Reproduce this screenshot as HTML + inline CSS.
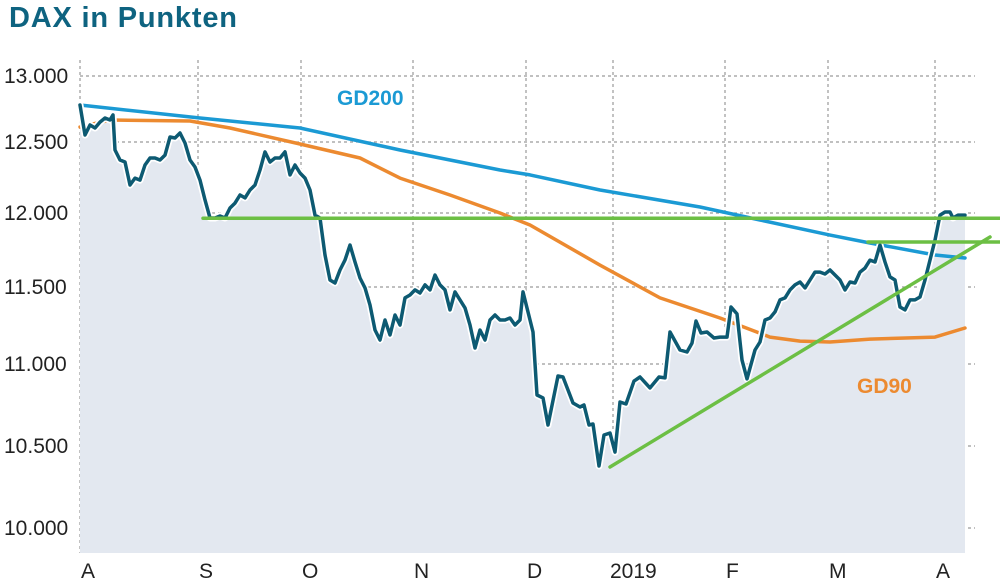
<!DOCTYPE html>
<html><head><meta charset="utf-8"><style>
body{margin:0;background:#fff;}
svg{display:block;font-family:"Liberation Sans",sans-serif;}
</style></head><body>
<svg id="chart" width="1000" height="582" viewBox="0 0 1000 582">
<text x="9" y="27" font-size="29" font-weight="bold" fill="#0e6380" textLength="228">DAX in Punkten</text>
<g id="grid"></g><g id="area"></g><g id="lines"></g><g id="labels"></g>
</svg>
<script>
const yTicks=[13000,12500,12000,11500,11000,10500,10000];
const yTickLabels=["13.000","12.500","12.000","11.500","11.000","10.500","10.000"];
const monthLabels=["A","S","O","N","D","2019","F","M","A"];
const monthDays=[0,23.6,44.2,66.6,89.2,106.6,129,149.6,171];
const daxDays=[0,1,2,3,4,5,6,6.6,7,
8,9,10,11,12,13,14,15,16,17,18,19,20,21,22,23,24,25,26,27,28,29,30,31,32,33,34,35,36,37,38,39,40,41,42,43,44,45,46,47,48,49,50,51,52,53,54,55,56,57,58,59,60,61,62,63,64,65,66,67,68,69,70,71,72,73,74,75,76,77,78,79,80,81,82,83,84,85,86,87,88,
88.6,90.6,91.4,92.6,93.6,95.6,96.6,98.6,100,100.8,101.8,102.6,103.8,104.8,106,107,108,109.2,110.8,112,114,115.8,117,118,120,121.4,122.4,123.2,124.2,125.4,126.8,128,129.4,130.2,131.4,132.4,133.4,135,136,
137,138,139,140,141,142,143,144,145,146,147,148,149,150,151,152,153,154,155,156,157,158,159,160,161,162,163,164,165,166,167,168,169,170,171,172,173,174,174.6,175.6,177];
const dax=[12780,12553,12629,12606,12651,12682,12667,12705,12444,
12373,12359,12197,12246,12232,12338,12387,12387,12373,12408,12538,12530,12568,12493,12373,12324,12232,12092,11966,11966,11980,11966,12035,12070,12127,12106,12162,12197,12303,12430,12359,12387,12387,12430,12268,12338,12282,12246,12162,11986,11966,11716,11547,11527,11615,11682,11784,11669,11561,11494,11383,11221,11156,11286,11188,11318,11253,11429,11448,11481,11461,11514,11481,11581,11514,11481,11351,11468,11416,11364,11253,11104,11221,11156,11286,11318,11286,11286,11299,11253,11286,
11468,11208,10811,10793,10628,10927,10921,10762,10738,10750,10628,10634,10378,10567,10579,10463,10768,10756,10896,10921,10854,10921,10915,11208,11091,11078,11136,11279,11201,11208,11169,11175,11175,11370,11325,11026,10909,11091,11143,
11286,11299,11338,11416,11429,11481,11514,11534,11494,11547,11601,11601,11588,11615,11581,11547,11481,11534,11527,11601,11628,11682,11669,11784,11669,11568,11547,11370,11351,11416,11416,11435,11547,11682,11817,11986,12007,12007,11966,11986,11986];
const gd200Days=[0,24,44,64,84,90,104,124,136,150,158,171,177];
const gd200=[12780,12682,12606,12444,12303,12268,12162,12042,11953,11851,11797,11716,11696];
const gd90Days=[0,6,22,30,44,56,64,74,84,90,104,116,128,138,144,150,158,171,177];
const gd90=[12614,12667,12659,12606,12486,12387,12246,12127,12000,11919,11648,11429,11299,11175,11149,11143,11162,11175,11234];
const supportDays=[24.6,184];const supportVals=[11965,11965];
const support2Days=[157.6,184];const support2Vals=[11804,11804];
const trendDays=[106,182];const trendVals=[10372,11838];

const tickY=[76,142,213,287,364,446,528];
const NS="http://www.w3.org/2000/svg";
function yScale(v){for(let i=0;i<yTicks.length-1;i++){const a=yTicks[i],b=yTicks[i+1];if(v>=b||i===yTicks.length-2){return tickY[i]+(a-v)/(a-b)*(tickY[i+1]-tickY[i]);}}}
function xScale(d){return 80+d*5;}
function mk(tag,attrs,parent){const e=document.createElementNS(NS,tag);for(const k in attrs)e.setAttribute(k,attrs[k]);document.getElementById(parent).appendChild(e);return e;}
yTicks.forEach((t,i)=>{
 const l=mk('line',{x1:80,x2:975,y1:yScale(t),y2:yScale(t),stroke:'#9a9a9a','stroke-width':1.2,'stroke-dasharray':'3 3'},'grid');
 
 
 const tx=mk('text',{x:4,y:yScale(t)+7,'font-size':21,fill:'#222'},'labels');tx.textContent=yTickLabels[i];
 
 
});
monthDays.forEach((d,i)=>{
 const l=mk('line',{x1:xScale(d),x2:xScale(d),y1:60,y2:553,stroke:'#9a9a9a','stroke-width':1.2,'stroke-dasharray':'3 3'},'grid');
 
 
 const tx=mk('text',{x:i===5?xScale(d)-3:xScale(d)+1,y:578,'font-size':21,fill:'#222'},'labels');tx.textContent=monthLabels[i];
 
 
});
function pts(days,vals){return days.map((d,i)=>xScale(d).toFixed(1)+','+yScale(vals[i]).toFixed(1));}
const p=pts(daxDays,dax);
const area=mk('path',{d:'M'+p.join(' L')+' L'+xScale(daxDays[daxDays.length-1])+',553 L80,553 Z',fill:'#e3e8f0'},'area');


function line(days,vals,color,w,name){
 const e=mk('polyline',{points:pts(days,vals).join(' '),fill:'none',stroke:color,'stroke-width':w,'stroke-linejoin':'round','stroke-linecap':'round'},'lines');
 
 
}
line(gd200Days,gd200,'#1b9ad4',3.5,'gd200-line');
line(gd90Days,gd90,'#ec8a30',3.5,'gd90-line');
line(daxDays,dax,'#ffffff',7,'dax-line-halo');
line(daxDays,dax,'#0d5a72',3.5,'dax-line');
line(supportDays,supportVals,'#6cbf44',3.5,'support-line');
line(support2Days,support2Vals,'#6cbf44',3.5,'resistance-line');
line(trendDays,trendVals,'#6cbf44',3.5,'trend-line');
const g1=mk('text',{x:337,y:105,'font-size':21,'font-weight':'bold',fill:'#1b9ad4'},'labels');g1.textContent='GD200';


const g2=mk('text',{x:857,y:393,'font-size':21,'font-weight':'bold',fill:'#ec8a30'},'labels');g2.textContent='GD90';


</script>
</body></html>
